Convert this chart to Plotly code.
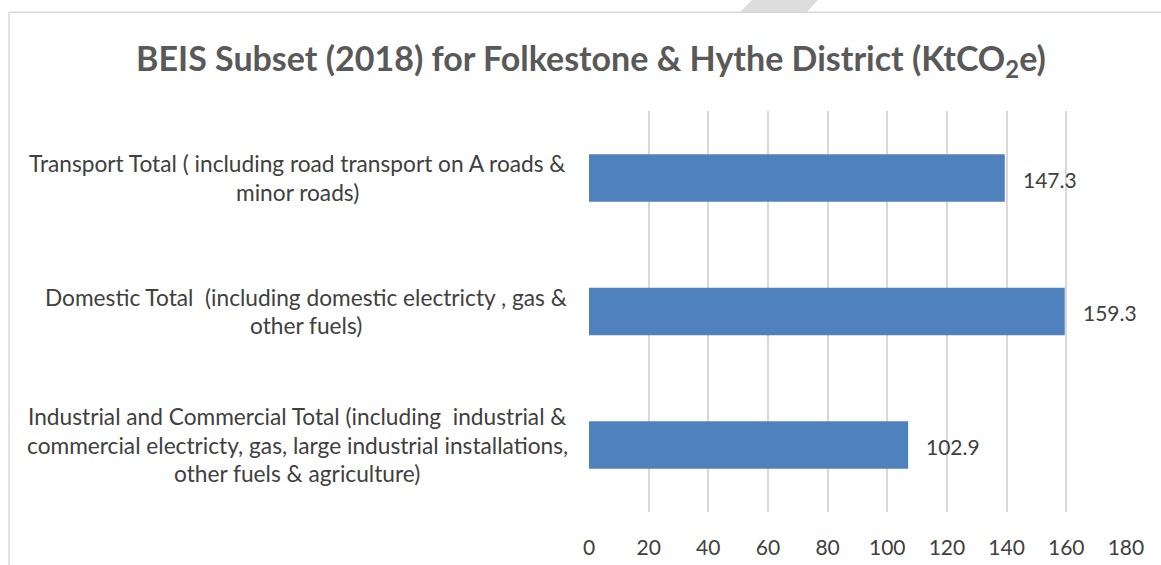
import plotly.graph_objects as go

W, H = 1161, 565

# Data (bottom to top)
categories = [
    "Industrial and Commercial Total (including  industrial &<br>commercial electricty, gas, large industrial installations,<br>other fuels & agriculture)",
    "Domestic Total  (including domestic electricty , gas &<br>other fuels)",
    "Transport Total ( including road transport on A roads &<br>minor roads)",
]
bar_lengths = [107.0, 159.5, 139.4]      # lengths as drawn in the picture
data_labels = ["102.9", "159.3", "147.3"]  # labels as printed
x_ticks = [0, 20, 40, 60, 80, 100, 120, 140, 160, 180]
title_text = "BEIS Subset (2018) for Folkestone & Hythe District (KtCO<sub>2</sub>e)"

FONT = "Lato, 'Open Sans', sans-serif"
LABEL_COLOR = "#404040"

def px(x):
    return x / W

def py(y):
    return 1 - y / H

fig = go.Figure()
fig.add_trace(go.Bar(
    x=bar_lengths, y=categories, orientation="h",
    marker=dict(color="#4F81BD", line=dict(width=0)),
    hoverinfo="skip",
))

annotations = []
LINE = 28.5
block_centers = {categories[0]: 297, categories[1]: 306, categories[2]: 297}
for cat in categories:
    lines = cat.split("<br>")
    n = len(lines)
    for i, ln in enumerate(lines):
        annotations.append(dict(
            x=px(block_centers[cat]), xref="paper", xanchor="center",
            y=cat, yref="y", yanchor="middle",
            yshift=-(i - (n - 1) / 2) * LINE,
            text=ln, showarrow=False, align="center",
            font=dict(family=FONT, size=22.7, color=LABEL_COLOR),
        ))

for v, lab, cat in zip(bar_lengths, data_labels, categories):
    annotations.append(dict(
        x=v, xref="x", xanchor="left", xshift=16,
        y=cat, yref="y", yanchor="middle", yshift=-1,
        text=lab, showarrow=False,
        font=dict(family=FONT, size=21, color=LABEL_COLOR),
    ))

shapes = [
    dict(type="path", xref="paper", yref="paper",
         path=f"M {px(740)} {py(12)} L {px(752)} {py(0)} L {px(818)} {py(0)} L {px(807)} {py(12)} Z",
         fillcolor="#DDDDDD", line=dict(width=0), layer="above"),
    dict(type="line", xref="paper", yref="paper",
         x0=px(9), y0=py(12.3), x1=px(1161), y1=py(12.3),
         line=dict(color="#D9D9D9", width=1.5)),
    dict(type="line", xref="paper", yref="paper",
         x0=px(9), y0=py(12.3), x1=px(9), y1=py(565),
         line=dict(color="#D9D9D9", width=1.5)),
]

fig.update_layout(
    width=W, height=H,
    margin=dict(l=0, r=0, t=0, b=0, pad=0, autoexpand=False),
    paper_bgcolor="white", plot_bgcolor="white",
    showlegend=False,
    bargap=0.645,
    title=dict(text=title_text, x=px(591), xanchor="center", y=py(59), yanchor="middle",
               font=dict(family=FONT, size=34, color="#595959", weight="bold")),
    xaxis=dict(domain=[px(589), px(1126.5)], range=[0, 180.2], automargin=False,
               tickvals=x_ticks, ticktext=[str(t) for t in x_ticks],
               showgrid=True, gridcolor="#D9D9D9", gridwidth=1.5,
               zeroline=False, showline=False, ticks="",
               ticklabelstandoff=21,
               tickfont=dict(family=FONT, size=21, color=LABEL_COLOR)),
    yaxis=dict(domain=[py(511.8), py(111.3)], showticklabels=False, automargin=False,
               showgrid=False, zeroline=False, showline=False, ticks=""),
    annotations=annotations,
    shapes=shapes,
)

fig.write_html(
    "out.html",
    config={"displayModeBar": False},
    post_script=(
        "document.documentElement.style.margin='0';"
        "document.documentElement.style.overflow='hidden';"
        "document.body.style.margin='0';document.body.style.overflow='hidden';"
    ),
)
